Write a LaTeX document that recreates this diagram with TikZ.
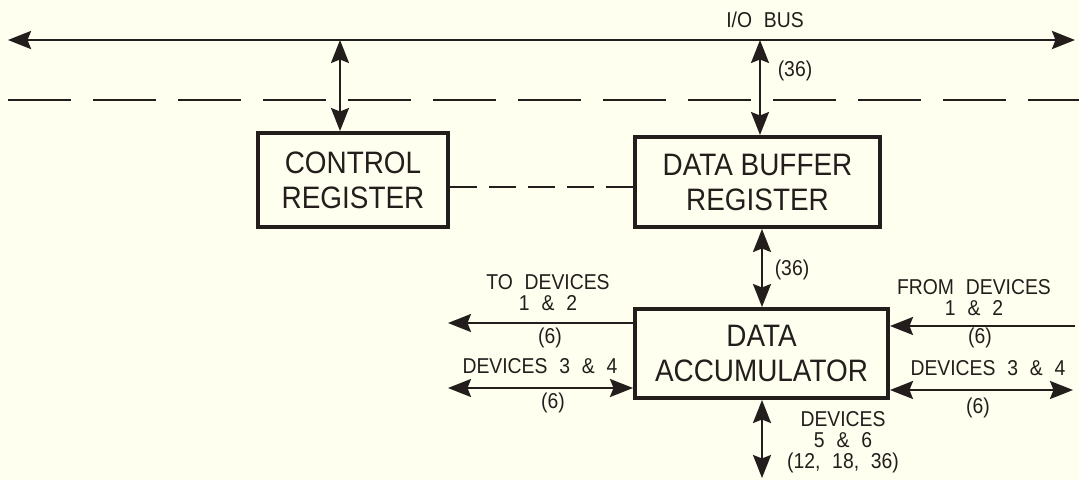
\documentclass[tikz,border=0pt]{standalone}
\usepackage{fontspec}
\setmainfont[FakeStretch=0.9]{Liberation Sans}
\usetikzlibrary{arrows.meta}
\definecolor{bg}{RGB}{255,255,240}
\definecolor{ink}{RGB}{35,30,28}
\newcommand\mylblfont{\fontsize{21.5}{21}\selectfont\spaceskip=0.55em plus 0.1em\relax}
\begin{document}
\begin{tikzpicture}[x=1pt,y=-1pt,
  >={Stealth[length=23pt,width=18pt,inset=3.5pt]},
  box/.style={draw=ink, line width=4pt, text=ink, align=center, inner sep=0pt,
    font=\fontsize{31}{35}\selectfont},
  lbl/.style={text=ink, align=center, inner sep=0pt, font=\mylblfont},
  conn/.style={draw=ink, line width=2.4pt},
  bus/.style={draw=ink, line width=2.8pt},
  longdash/.style={draw=ink, line width=2.4pt, dash pattern=on 63pt off 22pt},
  shortdash/.style={draw=ink, line width=2.4pt, dash pattern=on 27pt off 12pt}]
\fill[bg] (0,0) rectangle (1079,480);
\useasboundingbox (0,0) rectangle (1079,480);

% boxes
\node[box, minimum width=190pt, minimum height=94pt] (ctrl) at (353,180) {CONTROL\\REGISTER};
\node[box, minimum width=245pt, minimum height=90pt] (buf) at (757.5,182) {DATA BUFFER\\REGISTER};
\node[box, minimum width=253pt, minimum height=89pt] (acc) at (761.5,353.5) {DATA\\ACCUMULATOR};

% I/O bus
\coordinate (busL) at (8,40);
\coordinate (busR) at (1075,40);
\draw[bus,<->] (busL) -- (busR);
\node[lbl] (buslbl) at (765,20) {I/O BUS};

% upper dashed line
\coordinate (dl) at (8,100);
\coordinate (dr) at (1079,100);
\draw[longdash] (dl) -- (dr);

% bus taps
\coordinate (b1) at (340,40);
\coordinate (b2) at (760,40);
\draw[conn,<->] (b1) -- (b1 |- ctrl.north);
\draw[conn,<->] (b2) -- (b2 |- buf.north);
\node[lbl] (w36a) at (795,71) {(36)};

% control - buffer dashed link
\coordinate (dy) at (0,187);
\draw[shortdash] (ctrl.east |- dy) -- (buf.west |- dy);

% buffer - accumulator
\coordinate (vx) at (762,0);
\draw[conn,<->] (vx |- buf.south) -- (vx |- acc.north);
\node[lbl] (w36b) at (792,270) {(36)};

% left side
\coordinate (l1) at (448,323);
\coordinate (l2) at (448,388);
\draw[conn,->] (acc.west |- l1) -- (l1);
\draw[conn,<->] (l2) -- (acc.west |- l2);
\node[lbl] (todev) at (548,292.5) {TO DEVICES\\1 \& 2};
\node[lbl] (w6a) at (550,338) {(6)};
\node[lbl] (dev34l) at (540,366) {DEVICES 3 \& 4};
\node[lbl] (w6b) at (553,403) {(6)};

% right side
\coordinate (r1) at (1075,326);
\coordinate (r2) at (1073,390);
\draw[conn,->] (r1) -- (acc.east |- r1);
\draw[conn,<->] (acc.east |- r2) -- (r2);
\node[lbl] (fromdev) at (974,297.5) {FROM DEVICES\\1 \& 2};
\node[lbl] (w6c) at (980,338) {(6)};
\node[lbl] (dev34r) at (988,368) {DEVICES 3 \& 4};
\node[lbl] (w6d) at (978,408) {(6)};

% bottom
\coordinate (bt) at (762,478);
\draw[conn,<->] (bt |- acc.south) -- (bt);
\node[lbl] (dev56) at (843,442.5) {DEVICES\\5 \& 6\\(12, 18, 36)};
\end{tikzpicture}
\end{document}
